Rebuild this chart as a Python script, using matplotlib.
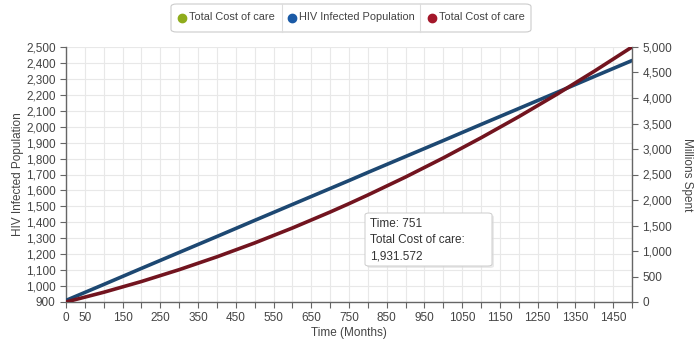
import matplotlib.pyplot as plt
from matplotlib.patches import FancyBboxPatch
from matplotlib.lines import Line2D

plt.rcParams['font.family'] = ['Liberation Sans', 'DejaVu Sans']

months = [0, 100, 200, 300, 400, 500, 600, 700, 751, 800, 900, 1000, 1100, 1200, 1300, 1400, 1500]
hiv_population = [910, 1010, 1111, 1211, 1311, 1412, 1512, 1612, 1663, 1713, 1813, 1913, 2014, 2114, 2214, 2315, 2415]
cost_millions = [0, 191, 402, 634, 886, 1158, 1451, 1764, 1931.572, 2098, 2451, 2825, 3220, 3634, 4069, 4525, 5000]

x_labels = [0] + list(range(50, 1451, 100))
left_ticks = list(range(900, 2501, 100))
right_ticks = list(range(0, 5001, 500))

legend_names = ['Total Cost of care', 'HIV Infected Population', 'Total Cost of care']
legend_colors = ['#8fac1c', '#1a5aa6', '#a3172a']

blue = '#1d4872'
red = '#72141f'
txt = '#444444'

fig = plt.figure(figsize=(6.95, 3.42), dpi=100)
ax = fig.add_axes([66 / 695, 40 / 342, 566 / 695, 255 / 342])
ax2 = ax.twinx()

ax.plot(months, hiv_population, color=blue, lw=2.6, solid_capstyle='round', zorder=3)
ax2.plot(months, cost_millions, color=red, lw=2.6, solid_capstyle='round', zorder=3)

ax.set_xlim(0, 1500)
ax.set_ylim(900, 2500)
ax2.set_ylim(0, 5000)

ax.set_xticks(range(0, 1501, 50))
ax.set_xticklabels([str(v) if v in x_labels else '' for v in range(0, 1501, 50)])
ax.set_yticks(left_ticks)
ax.set_yticklabels([f'{v:,}' for v in left_ticks])
ax2.set_yticks(right_ticks)
ax2.set_yticklabels([f'{v:,}' for v in right_ticks])

ax.grid(True, color='#e8e8e8', lw=0.8)
ax.set_axisbelow(True)

for a in (ax, ax2):
    a.spines['top'].set_visible(False)
    for s in ('left', 'right', 'bottom'):
        a.spines[s].set_color('#666666')
        a.spines[s].set_linewidth(1.0)
    a.tick_params(colors='#666666', labelcolor=txt, labelsize=8.5, length=4, width=0.8)
ax.spines['right'].set_visible(False)
ax2.spines['left'].set_visible(False)
ax2.spines['bottom'].set_visible(False)

ax.set_xlabel('Time (Months)', fontsize=8.5, color=txt, labelpad=2)
ax.set_ylabel('HIV Infected Population', fontsize=8.5, color=txt, labelpad=1)
ax2.set_ylabel('Millions Spent', fontsize=8.5, color=txt, rotation=270, labelpad=15)

# legend box on top
fig.patches.append(FancyBboxPatch((171 / 695, (342 - 32) / 342), 360 / 695, 28 / 342,
                                  boxstyle='round,pad=0,rounding_size=0.008',
                                  transform=fig.transFigure, fc='white', ec='#cccccc', lw=0.8))
marker_x = [182, 292, 432]
for mx, name, col in zip(marker_x, legend_names, legend_colors):
    fig.lines.append(Line2D([mx / 695], [(342 - 17.5) / 342], marker='o', ms=6, color=col,
                            transform=fig.transFigure))
    fig.text((mx + 7) / 695, (342 - 17.5) / 342, name, fontsize=7.9, color=txt, va='center')
for xd in [282, 420]:
    fig.lines.append(Line2D([xd / 695, xd / 695], [(342 - 32) / 342, (342 - 4) / 342],
                            color='#dddddd', lw=0.8, transform=fig.transFigure))

# tooltip
fig.patches.append(FancyBboxPatch((367 / 695, (342 - 268) / 342), 127 / 695, 53 / 342,
                                  boxstyle='round,pad=0,rounding_size=0.006',
                                  transform=fig.transFigure, fc='#dddddd', ec='none', alpha=0.6, zorder=4))
fig.patches.append(FancyBboxPatch((365 / 695, (342 - 266) / 342), 127 / 695, 53 / 342,
                                  boxstyle='round,pad=0,rounding_size=0.006',
                                  transform=fig.transFigure, fc='white', ec='#cccccc', lw=0.7, zorder=5))
fig.text(370 / 695, (342 - 218) / 342, 'Time: 751\nTotal Cost of care:\n1,931.572',
         fontsize=8.5, color='#333333', va='top', ha='left', linespacing=1.45, zorder=6)

fig.savefig('out.png', dpi=100)
